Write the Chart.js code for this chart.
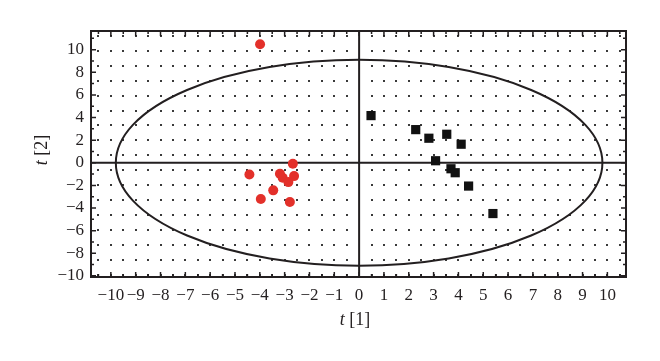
<!DOCTYPE html>
<html>
<head>
<meta charset="utf-8">
<script src="https://cdn.jsdelivr.net/npm/chart.js@4.4.1/dist/chart.umd.min.js"></script>
<style>
  html, body { margin: 0; padding: 0; background: #fff; }
  #wrap { width: 660px; height: 361px; }
</style>
</head>
<body>
<div id="wrap"><canvas id="scoreChart"></canvas></div>
<script>
// score values
var redT1 = [-2.67, -4.42, -3.19, -3.08, -2.62, -2.85, -3.46, -3.96, -2.79, -3.99];
var redT2 = [-0.09, -1.03, -0.97, -1.32, -1.18, -1.71, -2.44, -3.21, -3.47, 10.48];
var blackT1 = [0.48, 2.28, 2.81, 3.53, 4.11, 3.08, 3.70, 3.87, 4.41, 5.39];
var blackT2 = [4.17, 2.93, 2.17, 2.52, 1.64, 0.18, -0.53, -0.88, -2.06, -4.49];

var xTicks = [-10, -9, -8, -7, -6, -5, -4, -3, -2, -1, 0, 1, 2, 3, 4, 5, 6, 7, 8, 9, 10];
var yTicks = [-10, -8, -6, -4, -2, 0, 2, 4, 6, 8, 10];

// Hotelling ellipse half axes
var ellipseT1 = 9.8;
var ellipseT2 = 9.1;

var ink = '#231f20';
var serif = '"Liberation Serif", "DejaVu Serif", serif';

function toPoints(xs, ys) {
  return xs.map(function(v, i) { return { x: v, y: ys[i] }; });
}

function minusLabel(v) {
  return v < 0 ? '\u2212' + Math.abs(v) : '' + v;
}

var plotDecor = {
  id: 'plotDecor',
  beforeDatasetsDraw: function(chart) {
    var ctx = chart.ctx, a = chart.chartArea;
    var sx = chart.scales.x, sy = chart.scales.y;
    var x0 = sx.getPixelForValue(0), y0 = sy.getPixelForValue(0);
    ctx.save();

    // dotted background grid
    ctx.fillStyle = '#3a3a3a';
    for (var i = -21; i <= 21; i++) {
      if (i === 0) continue;
      var px = sx.getPixelForValue(i * 0.5);
      for (var j = -8; j <= 8; j++) {
        var py = sy.getPixelForValue(0.66 + j * 1.32);
        if (py < a.top + 2 || py > a.bottom - 2) continue;
        ctx.fillRect(Math.round(px) - 1, Math.round(py) - 1, 2, 2);
      }
    }

    // ellipse
    ctx.strokeStyle = ink;
    ctx.lineWidth = 2;
    ctx.beginPath();
    ctx.ellipse(x0, y0, sx.getPixelForValue(ellipseT1) - x0, y0 - sy.getPixelForValue(ellipseT2), 0, 0, Math.PI * 2);
    ctx.stroke();

    // zero lines
    ctx.beginPath();
    ctx.moveTo(x0, a.top); ctx.lineTo(x0, a.bottom);
    ctx.moveTo(a.left, y0); ctx.lineTo(a.right, y0);
    ctx.stroke();

    // frame
    ctx.strokeRect(a.left, a.top, a.right - a.left, a.bottom - a.top);

    // inward ticks on all sides
    ctx.lineWidth = 1.5;
    ctx.beginPath();
    for (var k = -21; k <= 21; k++) {
      var tx = sx.getPixelForValue(k * 0.5);
      var len = (k % 2 === 0) ? 5 : 3;
      ctx.moveTo(tx, a.bottom); ctx.lineTo(tx, a.bottom - len);
      ctx.moveTo(tx, a.top); ctx.lineTo(tx, a.top + len);
    }
    for (var m = -10; m <= 11; m++) {
      var ty = sy.getPixelForValue(m);
      var len2 = (m % 2 === 0) ? 5 : 3;
      ctx.moveTo(a.left, ty); ctx.lineTo(a.left + len2, ty);
      ctx.moveTo(a.right, ty); ctx.lineTo(a.right - len2, ty);
    }
    ctx.stroke();
    ctx.restore();
  },
  afterDraw: function(chart) {
    var ctx = chart.ctx;
    ctx.save();
    ctx.fillStyle = ink;
    ctx.textBaseline = 'middle';
    function title(x, y, rot, num) {
      ctx.save();
      ctx.translate(x, y);
      ctx.rotate(rot);
      ctx.font = 'italic 18px ' + serif;
      var w1 = ctx.measureText('t').width;
      ctx.font = '18px ' + serif;
      var rest = ' [' + num + ']';
      var w2 = ctx.measureText(rest).width;
      var start = -(w1 + w2) / 2;
      ctx.textAlign = 'left';
      ctx.font = 'italic 18px ' + serif;
      ctx.fillText('t', start, 0);
      ctx.font = '18px ' + serif;
      ctx.fillText(rest, start + w1, 0);
      ctx.restore();
    }
    title(355, 320, 0, 1);
    title(42, 150, -Math.PI / 2, 2);
    ctx.restore();
  }
};

new Chart(document.getElementById('scoreChart'), {
  type: 'scatter',
  data: {
    datasets: [
      {
        label: 'group 1',
        data: toPoints(redT1, redT2),
        pointStyle: 'circle',
        pointRadius: 5,
        backgroundColor: '#e3302a',
        borderColor: '#e3302a',
        borderWidth: 0
      },
      {
        label: 'group 2',
        data: toPoints(blackT1, blackT2),
        pointStyle: 'rect',
        pointRadius: 6.5,
        backgroundColor: '#111111',
        borderColor: '#111111',
        borderWidth: 0
      }
    ]
  },
  options: {
    responsive: true,
    maintainAspectRatio: false,
    animation: false,
    layout: { padding: { top: 31, right: 34, left: 0, bottom: 0 } },
    plugins: {
      legend: { display: false },
      tooltip: { enabled: false }
    },
    scales: {
      x: {
        type: 'linear',
        min: -10.8,
        max: 10.75,
        afterFit: function(s) { s.height = 84; },
        afterBuildTicks: function(s) { s.ticks = xTicks.map(function(v) { return { value: v }; }); },
        grid: { display: false, drawTicks: false },
        border: { display: false },
        ticks: {
          autoSkip: false,
          maxRotation: 0,
          padding: 8,
          color: ink,
          font: { family: serif, size: 17 },
          callback: minusLabel
        }
      },
      y: {
        type: 'linear',
        min: -10.1,
        max: 11.65,
        afterFit: function(s) { s.width = 91; },
        afterBuildTicks: function(s) { s.ticks = yTicks.map(function(v) { return { value: v }; }); },
        grid: { display: false, drawTicks: false },
        border: { display: false },
        ticks: {
          autoSkip: false,
          padding: 7,
          color: ink,
          font: { family: serif, size: 17 },
          callback: minusLabel
        }
      }
    }
  },
  plugins: [plotDecor]
});
</script>
</body>
</html>
